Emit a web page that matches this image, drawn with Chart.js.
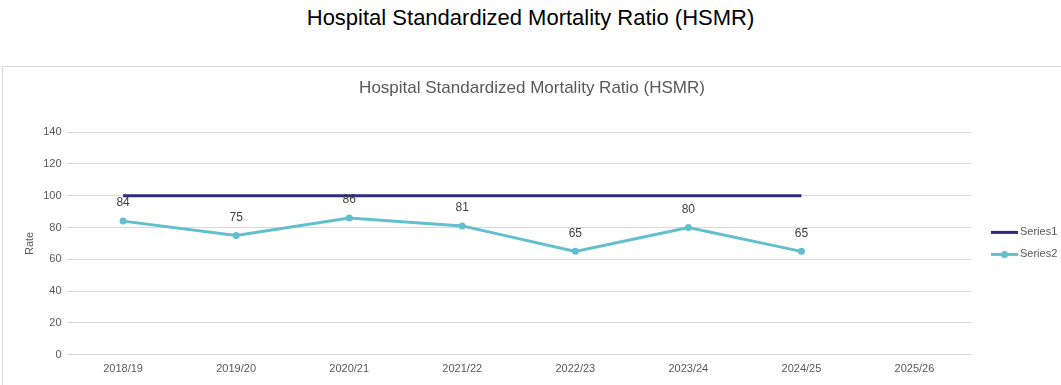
<!DOCTYPE html>
<html lang="en">

<head>
    <meta charset="UTF-8">
    <title>HSMR</title>
    <style>
        body { margin: 0; background: #fff; font-family: "Liberation Sans", Arial, sans-serif; }
        #pageTitle { position: absolute; top: 5px; left: 0; width: 1061px; text-align: center; font-size: 22px; color: #000; }
        #box { position: absolute; left: 2px; top: 66px; width: 1080px; height: 340px; border: 1px solid #d9d9d9; }
        #wrap { position: absolute; left: 0; top: 0; width: 1058px; height: 318px; }
    </style>
</head>

<body>
    <div id="pageTitle">Hospital Standardized Mortality Ratio (HSMR)</div>
    <div id="box">
        <div id="wrap"><canvas id="hsmr"></canvas></div>
    </div>
    <script src="https://cdn.jsdelivr.net/npm/chart.js@4/dist/chart.umd.min.js"></script>
    <script>
        const years = ['2018/19', '2019/20', '2020/21', '2021/22', '2022/23', '2023/24', '2024/25', '2025/26']
        const series1 = [100, 100, 100, 100, 100, 100, 100, null]
        const series2 = [84, 75, 86, 81, 65, 80, 65, null]
        const yTicks = [0, 20, 40, 60, 80, 100, 120, 140]
        const chartTitle = 'Hospital Standardized Mortality Ratio (HSMR)'

        const navy = '#2f2a7b'
        const teal = '#62bfcd'
        const grey = '#595959'
        const fontFam = '"Liberation Sans", Arial, sans-serif'

        // title centred on the whole canvas (Excel style), not on the plot
        const boxTitle = {
            id: 'boxTitle',
            afterDraw(chart) {
                const c = chart.ctx
                c.save()
                c.font = '17px ' + fontFam
                c.fillStyle = grey
                c.textAlign = 'center'
                c.textBaseline = 'middle'
                c.fillText(chartTitle, chart.width / 2, 21)
                c.restore()
            }
        }

        // legend to the right of the plot area
        const sideLegend = {
            id: 'sideLegend',
            afterDraw(chart) {
                const c = chart.ctx
                const area = chart.chartArea
                const midY = (area.top + area.bottom) / 2
                c.save()
                c.font = '11px ' + fontFam
                c.textBaseline = 'middle'
                chart.data.datasets.forEach((ds, i) => {
                    const y = midY - 11 + i * 22
                    const x0 = area.right + 20
                    c.strokeStyle = ds.borderColor
                    c.lineWidth = 3
                    c.beginPath(); c.moveTo(x0, y); c.lineTo(x0 + 27, y); c.stroke()
                    if (ds.pointRadius > 0) {
                        c.fillStyle = ds.borderColor
                        c.beginPath(); c.arc(x0 + 13.5, y, 3.5, 0, Math.PI * 2); c.fill()
                    }
                    c.fillStyle = grey
                    c.fillText(ds.label, x0 + 29, y)
                })
                c.restore()
            }
        }

        // value labels above Series2 points
        const valueLabels = {
            id: 'valueLabels',
            afterDatasetsDraw(chart) {
                const c = chart.ctx
                const meta = chart.getDatasetMeta(1)
                c.save()
                c.font = '12px ' + fontFam
                c.fillStyle = '#404040'
                c.textAlign = 'center'
                c.textBaseline = 'middle'
                meta.data.forEach((pt, i) => {
                    const v = series2[i]
                    if (v == null) return
                    c.fillText(String(v), pt.x, pt.y - 18)
                })
                c.restore()
            }
        }

        const ctx = document.getElementById('hsmr').getContext('2d')
        const hsmrChart = new Chart(ctx, {
            type: 'line',
            data: {
                labels: years,
                datasets: [{
                    label: 'Series1',
                    data: series1,
                    borderColor: navy,
                    backgroundColor: navy,
                    borderWidth: 3,
                    pointRadius: 0
                }, {
                    label: 'Series2',
                    data: series2,
                    borderColor: teal,
                    backgroundColor: teal,
                    borderWidth: 3,
                    pointRadius: 3.5,
                    pointBorderWidth: 0,
                    pointHoverRadius: 3.5,
                    tension: 0
                }]
            },
            options: {
                responsive: true,
                maintainAspectRatio: false,
                animation: false,
                layout: { padding: { left: 20, right: 90, top: 65, bottom: 9 } },
                plugins: {
                    title: { display: false },
                    legend: { display: false },
                    tooltip: { enabled: false }
                },
                scales: {
                    x: {
                        offset: true,
                        grid: { display: false },
                        border: { display: false },
                        ticks: {
                            color: grey,
                            font: { family: fontFam, size: 11 },
                            maxRotation: 0,
                            padding: 0
                        }
                    },
                    y: {
                        min: 0,
                        max: 140,
                        afterBuildTicks(axis) {
                            axis.ticks = yTicks.map(v => ({ value: v }))
                        },
                        grid: { color: '#d9d9d9', drawTicks: false },
                        border: { display: false },
                        title: {
                            display: true,
                            text: 'Rate',
                            color: grey,
                            font: { family: fontFam, size: 11 },
                            padding: { top: 0, bottom: 2 }
                        },
                        ticks: {
                            color: grey,
                            font: { family: fontFam, size: 11 },
                            padding: 5
                        }
                    }
                }
            },
            plugins: [valueLabels, boxTitle, sideLegend]
        })
    </script>
</body>

</html>
